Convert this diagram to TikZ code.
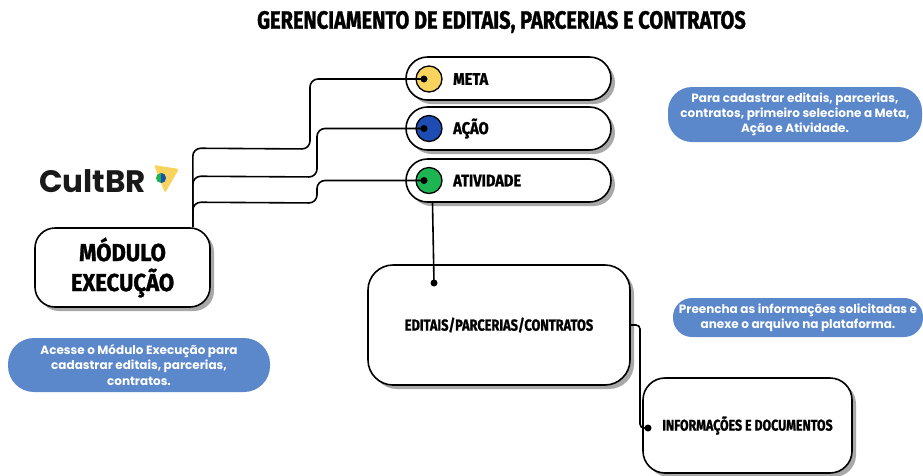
\documentclass[tikz,border=0pt]{standalone}
\usepackage{fontspec}
\newfontfamily\hd[FakeStretch=0.8, BoldFeatures={FakeBold=1.2}]{Fira Sans}
\newfontfamily\hdm[FakeStretch=0.86, BoldFeatures={FakeBold=1.2}]{Fira Sans}
\newfontfamily\hdw[FakeStretch=0.9, BoldFeatures={FakeBold=1.2}]{Fira Sans}
\newfontfamily\pop{Poppins}
\usetikzlibrary{shadows}
\definecolor{bubble}{HTML}{5B87CB}
\definecolor{cyel}{HTML}{F8D45E}
\definecolor{cblu}{HTML}{1D4CB3}
\definecolor{cgrn}{HTML}{1DB553}
\definecolor{shad}{HTML}{A8A8A8}
\tikzset{
  box/.style={draw=black, line width=1.6pt, fill=white, align=center,
    drop shadow={shadow xshift=4pt, shadow yshift=-4pt, fill=shad, opacity=1},
    font=\hd\bfseries, inner sep=0pt},
  pill/.style={box, minimum width=205pt, minimum height=43pt, rounded corners=21.5pt},
  bub/.style={fill=bubble, text=white, align=center, inner sep=0pt,
    font=\pop\bfseries\fontsize{12}{15.2}\selectfont},
  dotc/.style={circle, draw=black, line width=1.3pt, minimum size=26pt, inner sep=0pt},
  dot/.style={circle, fill=black, minimum size=7pt, inner sep=0pt},
  wire/.style={line width=1.6pt, rounded corners=8pt},
  lbl/.style={font=\hdm\bfseries\fontsize{17}{19}\selectfont, anchor=west, inner sep=0pt}
}
\begin{document}
\begin{tikzpicture}[x=1pt,y=-1pt]
\useasboundingbox (0,0) rectangle (923,475);
% title
\node[font=\hd\bfseries\fontsize{25}{27}\selectfont, inner sep=0pt] (title) at (501.5,22) {GERENCIAMENTO DE EDITAIS, PARCERIAS E CONTRATOS};
% logo
\node[font=\pop\bfseries\fontsize{31}{32}\selectfont, text=black!90, inner sep=0pt, anchor=west] (logo) at (39,181) {CultBR};
\fill[cyel, rounded corners=1.5pt] (154,165) -- (179,169) -- (165,193) -- cycle;
\fill[cgrn] (161,178) circle (5);
\begin{scope}
  \clip (161,170) rectangle (170,186);
  \fill[cblu] (161,178) circle (5);
\end{scope}
% module
\node[box, minimum width=175pt, minimum height=79pt, rounded corners=20pt,
  font=\hdw\bfseries\fontsize{24.5}{30}\selectfont] (mod) at (122.5,267.5) {MÓDULO\\EXECUÇÃO};
% pills
\node[pill] (meta) at (508.5,78.5) {};
\node[pill] (acao) at (508.5,128.5) {};
\node[pill] (ativ) at (508.5,180.5) {};
\node[dotc, fill=cyel] (c1) at (429,79) {};
\node[dotc, fill=cblu] (c2) at (429,128.5) {};
\node[dotc, fill=cgrn] (c3) at (429,180.5) {};
\node[lbl] (t1) at (453,79) {META};
\node[lbl] (t2) at (453,128.5) {AÇÃO};
\node[lbl] (t3) at (453,180.5) {ATIVIDADE};
\node[dot] (d1) at (424,79) {};
\node[dot] (d2) at (424,128.5) {};
\node[dot] (d3) at (424,180.5) {};
% editais and info
\node[box, minimum width=262pt, minimum height=120pt, rounded corners=25pt,
  font=\hd\bfseries\fontsize{16}{18}\selectfont] (ed) at (499,325) {EDITAIS/PARCERIAS/CONTRATOS};
\node[box, minimum width=209pt, minimum height=95pt, rounded corners=22pt,
  font=\hd\bfseries\fontsize{15.5}{17}\selectfont] (info) at (747.5,425.5) {INFORMAÇÕES E DOCUMENTOS};
\node[dot] (d4) at (434,283) {};
\node[dot] (d5) at (648,428) {};
% wires
\draw[wire] ([xshift=-18pt]mod.north east) -- ++(0,-79) -- (310,149) -- (310,79) -- (d1.center);
\draw[wire] ([xshift=-18pt]mod.north east) -- ++(0,-51) -- (317,177) -- (317,128.5) -- (d2.center);
\draw[wire] ([xshift=-18pt]mod.north east) -- ++(0,-25) -- (317,203) -- (317,180.5) -- (d3.center);
\draw[line width=1.6pt] ([xshift=-76pt]ativ.south) -- (d4.center);
\draw[wire, rounded corners=4pt] (ed.east) -- (640,325) -- (640,428) -- (d5.center);
% bubbles
\node[bub, minimum width=254pt, minimum height=55pt, rounded corners=24pt] (b1) at (795,114.5)
  {Para cadastrar editais, parcerias,\\contratos, primeiro selecione a Meta,\\Ação e Atividade.};
\node[bub, minimum width=250pt, minimum height=39pt, rounded corners=19pt] (b2) at (798,317.5)
  {Preencha as informações solicitadas e\\anexe o arquivo na plataforma.};
\node[bub, minimum width=262pt, minimum height=54pt, rounded corners=26pt] (b3) at (139,365)
  {Acesse o Módulo Execução para\\cadastrar editais, parcerias,\\contratos.};
\end{tikzpicture}
\end{document}
